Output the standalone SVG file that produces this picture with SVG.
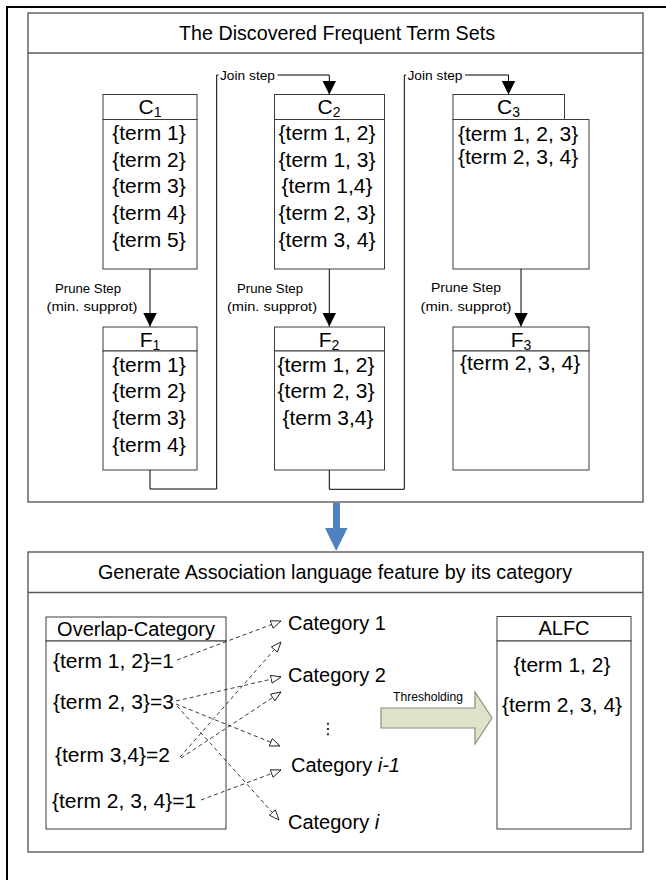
<svg xmlns="http://www.w3.org/2000/svg" width="666" height="880" viewBox="0 0 666 880">
<defs>
<style>
.t{font-family:"Liberation Sans",Arial,sans-serif;fill:#000}
.item{font-size:21px}
.hd{font-size:21px}
.sm{font-size:13px}
.cat{font-size:20px}
.panel{fill:#fff;stroke:#5a5a5a;stroke-width:1.4}
.box{fill:#fff;stroke:#3a3a3a;stroke-width:1}
.ln{fill:none;stroke:#000;stroke-width:1}
.dash{fill:none;stroke:#222;stroke-width:0.9;stroke-dasharray:4 3}
</style>
<marker id="ah" viewBox="0 0 14 14" refX="14" refY="7" markerWidth="14" markerHeight="14" markerUnits="userSpaceOnUse" orient="auto"><path d="M0,0 L14,7 L0,14 z" fill="#000"/></marker>
<marker id="oa" viewBox="0 0 11 9" refX="10.5" refY="4.5" markerWidth="11" markerHeight="9" markerUnits="userSpaceOnUse" orient="auto"><path d="M0.5,0.5 L10.5,4.5 L0.5,8.5 z" fill="#fff" stroke="#000" stroke-width="0.8"/></marker>
</defs>
<rect width="666" height="880" fill="#fff"/>
<path d="M7,880 V7 H666" fill="none" stroke="#000" stroke-width="2"/>

<g id="panel-top">
<rect class="panel" x="28" y="13" width="615" height="489"/>
<line x1="28" y1="53" x2="643" y2="53" stroke="#5a5a5a" stroke-width="1.4"/>
<text class="t" x="337" y="40" font-size="21" text-anchor="middle" textLength="316" lengthAdjust="spacingAndGlyphs">The Discovered Frequent Term Sets</text>
</g>

<g id="C1">
<rect class="box" x="103" y="94.5" width="94" height="25"/>
<rect class="box" x="103" y="119.5" width="94" height="149.5"/>
<text class="t hd" x="150" y="114" text-anchor="middle">C<tspan font-size="14" dy="3">1</tspan></text>
<g class="t item" text-anchor="middle">
<text x="149" y="140">{term 1}</text>
<text x="149" y="166.5">{term 2}</text>
<text x="149" y="193">{term 3}</text>
<text x="149" y="220">{term 4}</text>
<text x="149" y="246.5">{term 5}</text>
</g>
</g>

<g id="C2">
<rect class="box" x="274.5" y="94.5" width="110" height="25"/>
<rect class="box" x="274.5" y="119.5" width="110" height="149.5"/>
<text class="t hd" x="329" y="114" text-anchor="middle">C<tspan font-size="14" dy="3">2</tspan></text>
<g class="t item" text-anchor="middle">
<text x="327" y="140">{term 1, 2}</text>
<text x="327" y="166.5">{term 1, 3}</text>
<text x="327" y="193">{term 1,4}</text>
<text x="327" y="220">{term 2, 3}</text>
<text x="327" y="246.5">{term 3, 4}</text>
</g>
</g>

<g id="C3">
<rect class="box" x="453" y="94.5" width="111.5" height="25"/>
<rect class="box" x="453" y="119.5" width="136" height="149.5"/>
<text class="t hd" x="508.5" y="114" text-anchor="middle">C<tspan font-size="14" dy="3">3</tspan></text>
<g class="t item">
<text x="458" y="140.5">{term 1, 2, 3}</text>
<text x="458" y="164">{term 2, 3, 4}</text>
</g>
</g>

<g id="F1">
<rect class="box" x="103" y="327" width="94" height="24"/>
<rect class="box" x="103" y="351" width="94" height="119"/>
<text class="t hd" x="150" y="346.5" text-anchor="middle">F<tspan font-size="14" dy="3">1</tspan></text>
<g class="t item" text-anchor="middle">
<text x="149" y="371.5">{term 1}</text>
<text x="149" y="398">{term 2}</text>
<text x="149" y="425">{term 3}</text>
<text x="149" y="451.5">{term 4}</text>
</g>
</g>

<g id="F2">
<rect class="box" x="274.5" y="327" width="110" height="24"/>
<rect class="box" x="274.5" y="351" width="110" height="119"/>
<text class="t hd" x="329" y="346.5" text-anchor="middle">F<tspan font-size="14" dy="3">2</tspan></text>
<g class="t item" text-anchor="middle">
<text x="326" y="371.5">{term 1, 2}</text>
<text x="326" y="398">{term 2, 3}</text>
<text x="328" y="425">{term 3,4}</text>
</g>
</g>

<g id="F3">
<rect class="box" x="453" y="327" width="136" height="24"/>
<rect class="box" x="453" y="351" width="136" height="119"/>
<text class="t hd" x="521" y="346.5" text-anchor="middle">F<tspan font-size="14" dy="3">3</tspan></text>
<text class="t item" x="460" y="370">{term 2, 3, 4}</text>
</g>

<g id="panel-bottom">
<rect class="panel" x="28" y="552" width="615" height="300"/>
<line x1="28" y1="592.5" x2="643" y2="592.5" stroke="#5a5a5a" stroke-width="1.4"/>
<text class="t" x="335" y="579" font-size="20.5" text-anchor="middle" textLength="474" lengthAdjust="spacingAndGlyphs">Generate Association language feature by its category</text>
</g>

<g id="overlap-category">
<rect class="box" x="46" y="617" width="180" height="24"/>
<rect class="box" x="46" y="641" width="180" height="188"/>
<text class="t" x="136" y="636" font-size="20" text-anchor="middle">Overlap-Category</text>
<g class="t item">
<text x="53" y="668">{term 1, 2}=1</text>
<text x="53" y="709">{term 2, 3}=3</text>
<text x="55" y="762">{term 3,4}=2</text>
<text x="52" y="808">{term 2, 3, 4}=1</text>
</g>
</g>

<g id="categories" class="t cat">
<text x="288" y="630">Category 1</text>
<text x="288" y="682">Category 2</text>
<text x="291" y="772">Category <tspan font-style="italic">i-1</tspan></text>
<text x="288" y="829">Category <tspan font-style="italic">i</tspan></text>
<text x="328" y="734" font-size="16" font-family="DejaVu Sans, sans-serif" text-anchor="middle">⋮</text>
</g>

<g id="ALFC">
<rect class="box" x="497" y="616.5" width="134" height="24.5"/>
<rect class="box" x="497" y="641" width="134" height="188"/>
<text class="t" x="564" y="635" font-size="20" text-anchor="middle">ALFC</text>
<g class="t item" text-anchor="middle">
<text x="562" y="672">{term 1, 2}</text>
<text x="562" y="712">{term 2, 3, 4}</text>
</g>
</g>

<g id="connectors">
<path class="ln" d="M150,269 V326.5" marker-end="url(#ah)"/>
<path class="ln" d="M329.3,269 V326.5" marker-end="url(#ah)"/>
<path class="ln" d="M521,269 V326.5" marker-end="url(#ah)"/>
<path class="ln" d="M150,470 V489 H216.7 V75 H329.3 V94.5" marker-end="url(#ah)"/>
<path class="ln" d="M329.3,470 V489.3 H404.3 V75 H508.5 V94.5" marker-end="url(#ah)"/>
<rect x="333" y="503" width="7" height="26" fill="#4F81BD"/>
<path d="M325,528 H347.5 L336.2,551 z" fill="#4F81BD"/>
<path d="M381,708 H475 V692 L492,718 L475,744 V728 H381 z" fill="#E0E3CB" stroke="#8C8F72" stroke-width="1.2"/>
<path class="dash" d="M177,660 L281,621" marker-end="url(#oa)"/>
<path class="dash" d="M176,701 L281,677" marker-end="url(#oa)"/>
<path class="dash" d="M176,704 L280,746" marker-end="url(#oa)"/>
<path class="dash" d="M177,706 L279,820" marker-end="url(#oa)"/>
<path class="dash" d="M180,757 L281,642" marker-end="url(#oa)"/>
<path class="dash" d="M181,758 L281,692" marker-end="url(#oa)"/>
<path class="dash" d="M201,800 L281,770" marker-end="url(#oa)"/>
</g>

<g id="labels" class="t">
<rect x="218.5" y="68" width="59" height="15" fill="#fff"/>
<text x="220" y="80" font-size="13.5" textLength="55" lengthAdjust="spacingAndGlyphs">Join step</text>
<rect x="406" y="68" width="59" height="15" fill="#fff"/>
<text x="407.5" y="80" font-size="13.5" textLength="55" lengthAdjust="spacingAndGlyphs">Join step</text>
<g font-size="13.5" text-anchor="middle">
<text x="88" y="293" textLength="66" lengthAdjust="spacingAndGlyphs">Prune Step</text>
<text x="92" y="310.5" textLength="91" lengthAdjust="spacingAndGlyphs">(min. supprot)</text>
<text x="270" y="293" textLength="66" lengthAdjust="spacingAndGlyphs">Prune Step</text>
<text x="272" y="310.5" textLength="90" lengthAdjust="spacingAndGlyphs">(min. supprot)</text>
<text x="466" y="292" textLength="70" lengthAdjust="spacingAndGlyphs">Prune Step</text>
<text x="466" y="310.5" textLength="91" lengthAdjust="spacingAndGlyphs">(min. supprot)</text>
</g>
<text x="393" y="701" font-size="12" textLength="70" lengthAdjust="spacingAndGlyphs">Thresholding</text>
</g>
</svg>
